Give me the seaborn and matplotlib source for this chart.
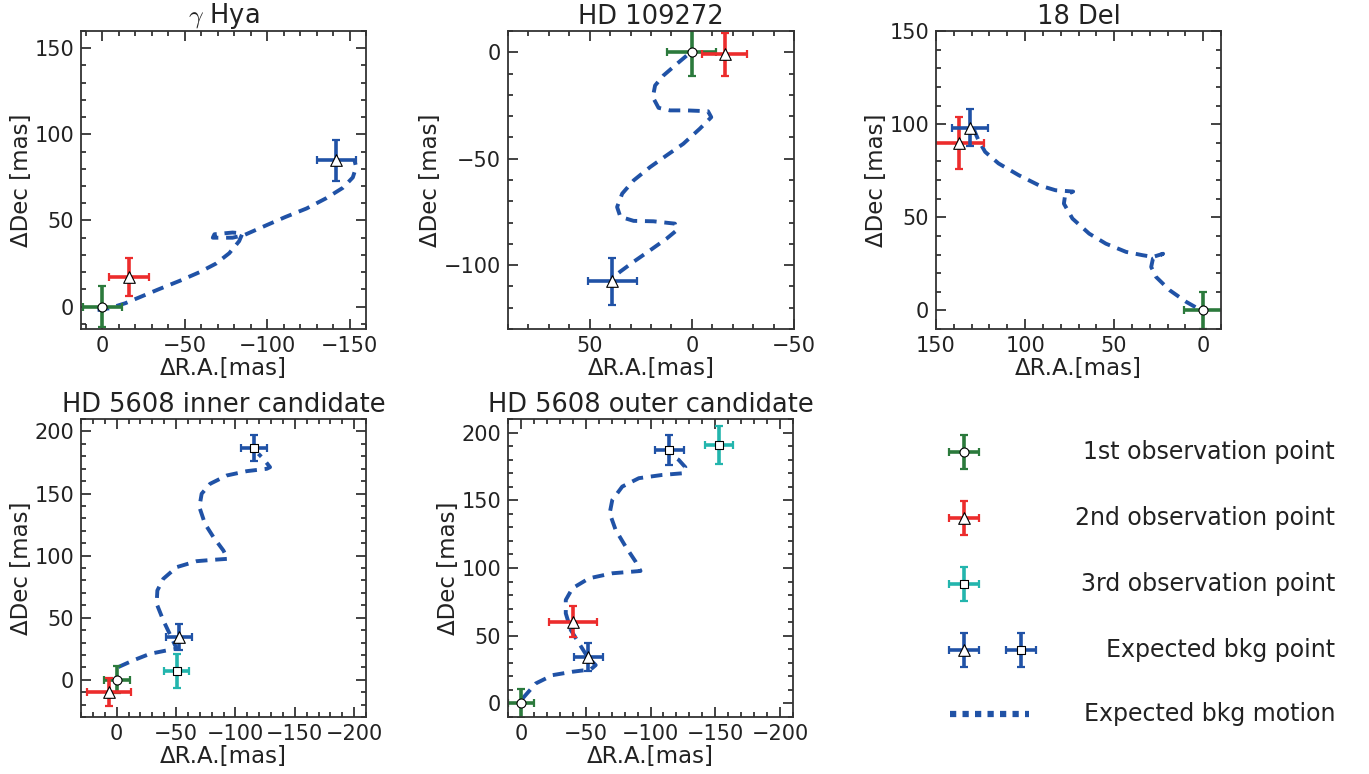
import matplotlib
matplotlib.use('Agg')
import matplotlib.pyplot as plt
import seaborn as sns
from matplotlib.ticker import MultipleLocator

# ---- data (mas) ----
# gamma Hya
hya_ra = [0, -16, -142]
hya_dec = [0, 17, 85]
hya_ra_err = [12, 12, 12]
hya_dec_err = [12, 11, 12]
hya_kind = ['1st', '2nd', 'bkg_tri']
hya_track_ra = [3, -4, -14, -24, -34, -47, -59, -69, -77, -83, -85, -79, -68, -67, -79, -86,
                -99, -111, -124, -136, -146, -152, -154, -153]
hya_track_dec = [-2, -1, 2, 6, 10, 15, 20, 25, 31, 38, 42.5, 43, 42, 40, 40, 41.5,
                 47, 52, 57, 63, 69, 75, 81, 85]

# HD 109272
hd109_ra = [0, -16, 39]
hd109_dec = [0, -1, -107.5]
hd109_ra_err = [12, 11, 12]
hd109_dec_err = [11, 10, 11]
hd109_kind = ['1st', '2nd', 'bkg_tri']
hd109_track_ra = [2.6, 7.4, 13.9, 18, 19.1, 16.3, 10.7, 2.6, -7.9, -9.5, -3.9, 4.2, 12.3, 20.4,
                  28.5, 34.1, 36.6, 35, 28.5, 18.8, 8.3, 7.4, 12.3, 20.4, 28.5, 35, 38.2]
hd109_track_dec = [-1.6, -5.5, -10.9, -15.6, -21.1, -26.1, -27.3, -27.3, -27.7, -30.5, -35.9, -43,
                   -48.4, -53.9, -60.2, -66.4, -72.7, -77.3, -79.2, -79.4, -80.5, -83.6, -87.5,
                   -93, -98.4, -103, -105.5]

# 18 Del
del_ra = [0, 137, 131]
del_dec = [0, 90, 98]
del_ra_err = [11, 14, 10]
del_dec_err = [10, 14, 10]
del_kind = ['1st', '2nd', 'bkg_tri']
del_track_ra = [129, 126.2, 122.4, 114.9, 103.6, 92.3, 82.9, 73, 77.5, 78.2, 73.4, 64, 54.6,
                43.3, 33.9, 28.2, 22.5, 28.2, 29.2, 26.4, 18.8, 9.4, 2.8]
del_track_dec = [97.7, 91.4, 85.1, 78.9, 72.6, 67.2, 64.5, 63.8, 62, 57.3, 49.3, 41.2, 35.8,
                 31.4, 29.6, 28.7, 30.4, 27.8, 23.3, 17.9, 10.8, 4.5, 0.9]

# HD 5608 inner candidate
inn_ra = [0, 6.5, -50.5, -52.5, -115.5]
inn_dec = [0, -10, 7, 34.5, 187]
inn_ra_err = [11, 18.5, 10.5, 11, 11]
inn_dec_err = [11, 11.5, 13.5, 10.5, 10.5]
inn_kind = ['1st', '2nd', '3rd', 'bkg_tri', 'bkg_sq']
inn_track_ra = [-1.4, -14, -28.1, -42.1, -50.6, -39.3, -33.7, -34.3, -39.3, -50.6, -67.4, -81.5,
                -93.5, -89.9, -81.5, -74.4, -69.7, -71.6, -78.7, -92.7, -109.6, -126.4, -129.2,
                -123.6, -119.4]
inn_track_dec = [10.2, 15.6, 20.9, 23.6, 25, 47.8, 61.2, 71.9, 81.3, 90.7, 95.5, 96.6, 97.4,
                 104.1, 114.9, 125.6, 139, 149.8, 157.8, 164.5, 168, 169.9, 171.2, 177.9, 182]

# HD 5608 outer candidate
out_ra = [0, -40, -153, -52, -114.5]
out_dec = [0, 60.5, 191, 34.5, 187]
out_ra_err = [10, 18.5, 11, 11, 11]
out_dec_err = [10.5, 11.5, 14, 10.5, 11]
out_kind = ['1st', '2nd', '3rd', 'bkg_tri', 'bkg_sq']
out_track_ra = [-1.3, -11.5, -24.4, -39.7, -53.8, -57.7, -51.3, -44.9, -38.5, -34.6, -34.6,
                -39.7, -52.6, -70.5, -85.9, -92.3, -88.5, -80.8, -73.1, -68.5, -70.5, -78.2,
                -91, -109, -125.6, -126.9, -121.8, -117.9]
out_track_dec = [3.7, 14.8, 20.9, 23.4, 25.1, 28.3, 34.5, 44.3, 54.2, 66.5, 76.4, 85, 92.4,
                 96.1, 97.3, 97.8, 104.7, 115.8, 128.1, 140.4, 150.2, 160.1, 166.3, 168.7, 170,
                 174.4, 179.8, 182.3]

legend_labels = ['1st observation point', '2nd observation point', '3rd observation point',
                 'Expected bkg point', 'Expected bkg motion']

GREEN = '#2b7a3c'
RED = '#ec2c2c'
CYAN = '#23b5ad'
BLUE = '#2052a6'
style = {
    '1st': (GREEN, 'o', 42),
    '2nd': (RED, '^', 70),
    '3rd': (CYAN, 's', 30),
    'bkg_tri': (BLUE, '^', 70),
    'bkg_sq': (BLUE, 's', 30),
}

sns.set_style('ticks')
plt.rcParams['font.family'] = ['DejaVu Sans']
plt.rcParams['mathtext.fontset'] = 'cm'
plt.rcParams['text.color'] = '#222222'
plt.rcParams['axes.labelcolor'] = '#222222'

W, H = 1369, 774
fig = plt.figure(figsize=(W / 100, H / 100), dpi=100)


def px_axes(left, top, right, bottom):
    return fig.add_axes([left / W, (H - bottom) / H, (right - left) / W, (bottom - top) / H])


def panel(ax, title, ra, dec, ra_err, dec_err, kind, tra, tdec, xlim, ylim):
    sns.lineplot(x=tra, y=tdec, sort=False, estimator=None, color=BLUE, lw=2.8,
                 linestyle=(0, (3, 2)), ax=ax, zorder=1)
    for i, k in enumerate(kind):
        c, m, s = style[k]
        ax.errorbar(ra[i], dec[i], xerr=ra_err[i], yerr=dec_err[i], fmt='none', ecolor=c,
                    elinewidth=2.6, capsize=3, capthick=1.6, zorder=2)
    for i, k in enumerate(kind):
        c, m, s = style[k]
        sns.scatterplot(x=[ra[i]], y=[dec[i]], marker=m, s=s, color='white',
                        edgecolor='black', linewidth=0.8, ax=ax, zorder=3)
    ax.set_xlim(*xlim)
    ax.set_ylim(*ylim)
    ax.xaxis.set_major_locator(MultipleLocator(50))
    ax.yaxis.set_major_locator(MultipleLocator(50))
    ax.xaxis.set_minor_locator(MultipleLocator(10))
    ax.yaxis.set_minor_locator(MultipleLocator(10))
    ax.tick_params(which='both', direction='in', top=True, right=True, colors='#222222',
                   labelsize=15, width=1.2)
    ax.tick_params(which='major', length=7.5, pad=5)
    ax.tick_params(which='minor', length=3.8)
    for sp in ax.spines.values():
        sp.set_color('#333333')
        sp.set_linewidth(1.3)
    ax.set_title(title, fontsize=18.5, pad=5)
    ax.set_xlabel('ΔR.A.[mas]', fontsize=16.5, labelpad=1)
    ax.set_ylabel('ΔDec [mas]', fontsize=16.5, labelpad=1)


ax1 = px_axes(81, 31, 366, 329)
panel(ax1, r'$\gamma$ Hya', hya_ra, hya_dec, hya_ra_err, hya_dec_err, hya_kind,
      hya_track_ra, hya_track_dec, (13, -160), (-13, 160))

ax2 = px_axes(508, 31, 794, 329)
panel(ax2, 'HD 109272', hd109_ra, hd109_dec, hd109_ra_err, hd109_dec_err, hd109_kind,
      hd109_track_ra, hd109_track_dec, (90, -50), (-130, 10))

ax3 = px_axes(936, 31, 1221, 329)
panel(ax3, '18 Del', del_ra, del_dec, del_ra_err, del_dec_err, del_kind,
      del_track_ra, del_track_dec, (150, -10), (-10, 150))

ax4 = px_axes(81, 419, 366, 717)
panel(ax4, 'HD 5608 inner candidate', inn_ra, inn_dec, inn_ra_err, inn_dec_err, inn_kind,
      inn_track_ra, inn_track_dec, (30, -210), (-30, 210))

ax5 = px_axes(508, 419, 793, 717)
panel(ax5, 'HD 5608 outer candidate', out_ra, out_dec, out_ra_err, out_dec_err, out_kind,
      out_track_ra, out_track_dec, (10, -210), (-10, 210))

# ---- legend panel (pixel coordinates) ----
leg = px_axes(900, 420, 1369, 774)
leg.set_xlim(900, 1369)
leg.set_ylim(774, 420)
leg.axis('off')
rows = [452, 518, 584, 650, 714]
key_x = 964
keys = [[('1st', key_x)], [('2nd', key_x)], [('3rd', key_x)],
        [('bkg_tri', key_x), ('bkg_sq', 1021)]]
for y, row in zip(rows, keys):
    for k, x in row:
        c, m, s = style[k]
        leg.errorbar(x, y, xerr=15, yerr=17, fmt='none', ecolor=c, elinewidth=2.6,
                     capsize=3, capthick=1.6, zorder=2)
        leg.scatter([x], [y], marker=m, s=s, color='white', edgecolor='black',
                    linewidth=0.8, zorder=3)
leg.plot([950, 1029], [rows[4], rows[4]], color=BLUE, lw=4.5, linestyle=(0, (1, 1)),
         solid_capstyle='butt', dash_capstyle='butt')
for y, lab in zip(rows, legend_labels):
    leg.text(1335, y, lab, ha='right', va='center', fontsize=17, color='#222222')

fig.savefig('out.png', dpi=100)
